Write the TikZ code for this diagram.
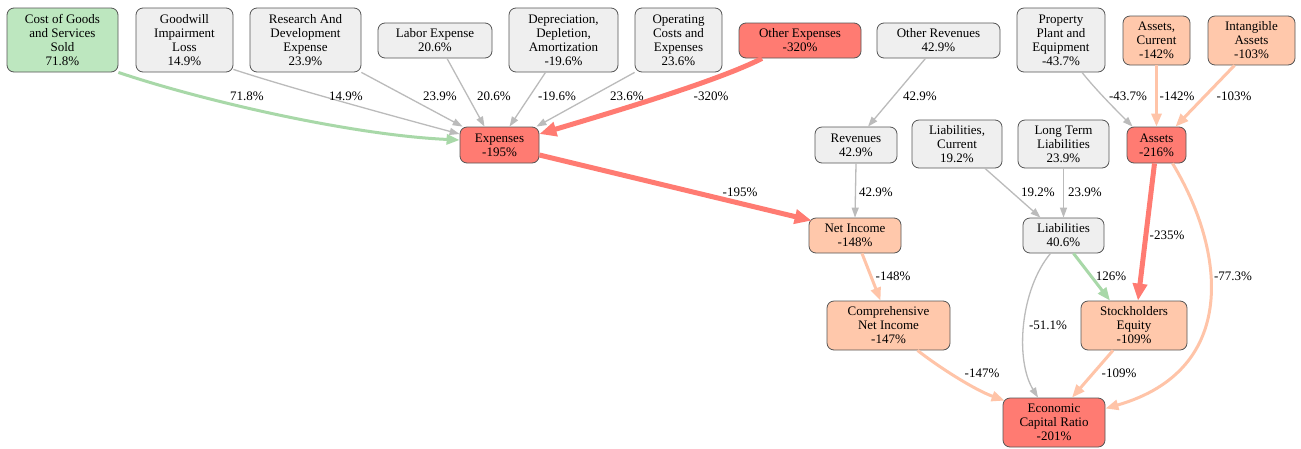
\documentclass[tikz,border=0pt]{standalone}
\usepackage{fontspec}
\setmainfont{Liberation Serif}
\newfontfamily\diaserif{Liberation Serif}
\usetikzlibrary{arrows.meta}
\definecolor{bordc}{HTML}{555555}
\definecolor{grayfill}{HTML}{EFEFEF}
\definecolor{greenfill}{HTML}{BDE7BF}
\definecolor{redfill}{HTML}{FF7B72}
\definecolor{salmonfill}{HTML}{FFC8AB}
\definecolor{egray}{HTML}{BBBBBB}
\definecolor{egreen}{HTML}{A8D8A8}
\definecolor{esalmon}{HTML}{FFC4A8}
\definecolor{ered}{HTML}{FF7B72}
\newcommand\diafont{\diaserif\fontsize{13}{14}\selectfont}
\tikzset{
  box/.style={draw=bordc, line width=0.8pt, rounded corners=7pt, inner sep=0pt, align=center, font=\diafont, text=black},
  gbox/.style={box, fill=grayfill},
  grbox/.style={box, fill=greenfill},
  rbox/.style={box, fill=redfill},
  sbox/.style={box, fill=salmonfill},
  eg/.style={draw=egray, line width=1.3pt, -{Triangle[length=10pt,width=7pt]}},
  egr/.style={draw=egreen, line width=3pt, -{Triangle[length=13pt,width=10pt]}},
  es/.style={draw=esalmon, line width=3pt, -{Triangle[length=13pt,width=10pt]}},
  er/.style={draw=ered, line width=5pt, -{Triangle[length=17pt,width=14pt]}},
  lbl/.style={font=\diafont, inner sep=0pt, text=black},
}
\begin{document}
\begin{tikzpicture}[x=1pt,y=-1pt]
\useasboundingbox[fill=white] (0,0) rectangle (1301,448);
% nodes
\node[grbox, minimum width=111pt, minimum height=64pt] (cogs) at (62.5,40) {Cost of Goods\\and Services\\Sold\\71.8\%};
\node[gbox, minimum width=97pt, minimum height=64pt] (gw) at (184.5,40) {Goodwill\\Impairment\\Loss\\14.9\%};
\node[gbox, minimum width=111pt, minimum height=64pt] (rd) at (305.5,40) {Research And\\Development\\Expense\\23.9\%};
\node[gbox, minimum width=114pt, minimum height=35pt] (lab) at (435,40.5) {Labor Expense\\20.6\%};
\node[gbox, minimum width=109pt, minimum height=64pt] (dep) at (563.5,40) {Depreciation,\\Depletion,\\Amortization\\-19.6\%};
\node[gbox, minimum width=87pt, minimum height=64pt] (op) at (678.5,40) {Operating\\Costs and\\Expenses\\23.6\%};
\node[rbox, minimum width=122pt, minimum height=35pt] (oexp) at (800,40.5) {Other Expenses\\-320\%};
\node[gbox, minimum width=123pt, minimum height=35pt] (orev) at (938.5,40.5) {Other Revenues\\42.9\%};
\node[gbox, minimum width=88pt, minimum height=64pt] (ppe) at (1061,40) {Property\\Plant and\\Equipment\\-43.7\%};
\node[sbox, minimum width=67pt, minimum height=49pt] (ac) at (1156.5,40.5) {Assets,\\Current\\-142\%};
\node[sbox, minimum width=87pt, minimum height=49pt] (ia) at (1251.5,40.5) {Intangible\\Assets\\-103\%};
\node[rbox, minimum width=79pt, minimum height=36pt] (exp) at (499.5,145) {Expenses\\-195\%};
\node[gbox, minimum width=82pt, minimum height=36pt] (rev) at (856,145) {Revenues\\42.9\%};
\node[gbox, minimum width=90pt, minimum height=48pt] (lc) at (957,144) {Liabilities,\\Current\\19.2\%};
\node[gbox, minimum width=91pt, minimum height=48pt] (ltl) at (1063.5,144) {Long Term\\Liabilities\\23.9\%};
\node[rbox, minimum width=59pt, minimum height=36pt] (assets) at (1156.5,145) {Assets\\-216\%};
\node[sbox, minimum width=92pt, minimum height=35pt] (ni) at (855,235.5) {Net Income\\-148\%};
\node[gbox, minimum width=81pt, minimum height=35pt] (liab) at (1063.5,235.5) {Liabilities\\40.6\%};
\node[sbox, minimum width=123pt, minimum height=49pt] (cni) at (888.5,325.5) {Comprehensive\\Net Income\\-147\%};
\node[sbox, minimum width=106pt, minimum height=49pt] (se) at (1134,325.5) {Stockholders\\Equity\\-109\%};
\node[rbox, minimum width=102pt, minimum height=49pt] (ecr) at (1054,422.5) {Economic\\Capital Ratio\\-201\%};
% edges
\draw[egr] (cogs.south east) .. controls (200,100) and (350,135) .. ([yshift=5pt]exp.west);
\draw[eg] ([yshift=3pt]gw.south east) .. controls (290,88) and (400,118) .. ([yshift=11pt]exp.west);
\draw[eg] (rd.south east) -- ([xshift=3pt]exp.north west);
\draw[eg] ([xshift=12pt]lab.south) -- ([xshift=-15pt]exp.north);
\draw[eg] ([xshift=-18pt]dep.south) -- ([xshift=10pt]exp.north);
\draw[eg] (op.south west) -- ([xshift=-3pt]exp.north east);
\draw[er] ([xshift=-38pt]oexp.south) .. controls (720,80) and (620,110) .. ([yshift=11pt]exp.east);
\draw[er] ([yshift=-10pt]exp.east) -- ([xshift=3pt,yshift=-3pt]ni.north west);
\draw[eg] ([xshift=-13pt]orev.south) -- ([xshift=12pt]rev.north);
\draw[eg] (rev.south) -- (ni.north);
\draw[eg] ([xshift=21pt]ppe.south) .. controls (1096,90) and (1116,110) .. ([xshift=6pt]assets.north west);
\draw[es] (ac.south) -- (assets.north);
\draw[es] ([xshift=-17pt]ia.south) -- ([xshift=19pt]assets.north);
\draw[eg] ([xshift=28pt]lc.south) -- ([xshift=-23pt]liab.north);
\draw[eg] (ltl.south) -- (liab.north);
\draw[es] ([xshift=7pt]ni.south) -- ([xshift=-8pt]cni.north);
\draw[egr] ([xshift=10pt]liab.south) -- ([xshift=-24pt]se.north);
\draw[er] ([xshift=-2pt]assets.south) -- ([xshift=4pt]se.north);
\draw[es] ([xshift=16pt]assets.south) .. controls (1225,250) and (1240,370) .. ([yshift=14pt]ecr.east);
\draw[eg] ([xshift=-13pt]liab.south) .. controls (1020,290) and (1015,360) .. ([xshift=-16pt]ecr.north);
\draw[es] ([xshift=29pt]cni.south) .. controls (940,368) and (975,390) .. ([xshift=2pt,yshift=-3pt]ecr.north west);
\draw[es] ([xshift=-21pt]se.south) -- ([xshift=18pt]ecr.north);
% labels
\node[lbl] (l1) at (247,96) {71.8\%};
\node[lbl] (l2) at (346,96) {14.9\%};
\node[lbl] (l3) at (440,96) {23.9\%};
\node[lbl] (l4) at (494,96) {20.6\%};
\node[lbl] (l5) at (557,96) {-19.6\%};
\node[lbl] (l6) at (627,96) {23.6\%};
\node[lbl] (l7) at (711,96) {-320\%};
\node[lbl] (l8) at (740,192) {-195\%};
\node[lbl] (l9) at (920,96) {42.9\%};
\node[lbl] (l10) at (876,192) {42.9\%};
\node[lbl] (l11) at (1128,96) {-43.7\%};
\node[lbl] (l12) at (1177,96) {-142\%};
\node[lbl] (l13) at (1234,96) {-103\%};
\node[lbl] (l14) at (1038,192) {19.2\%};
\node[lbl] (l15) at (1085,192) {23.9\%};
\node[lbl] (l16) at (893,276) {-148\%};
\node[lbl] (l17) at (1111,276) {126\%};
\node[lbl] (l18) at (1167,235) {-235\%};
\node[lbl] (l19) at (1233,276) {-77.3\%};
\node[lbl] (l20) at (1048,325) {-51.1\%};
\node[lbl] (l21) at (982,373) {-147\%};
\node[lbl] (l22) at (1119,373) {-109\%};
\end{tikzpicture}
\end{document}
